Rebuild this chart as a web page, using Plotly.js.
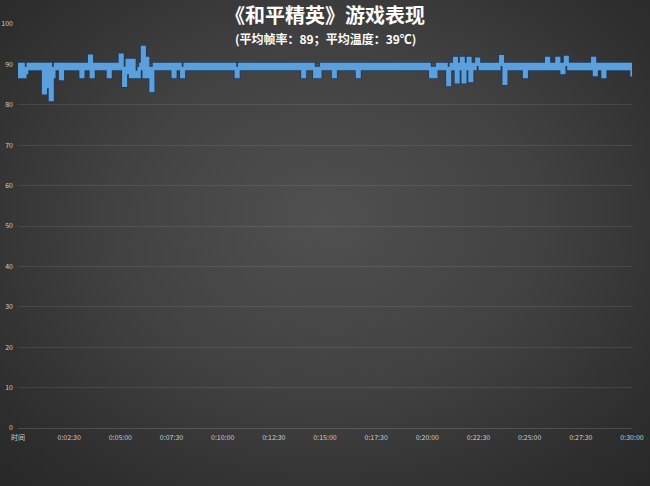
<!DOCTYPE html>
<html>
<head>
<meta charset="utf-8">
<script src="https://cdn.plot.ly/plotly-3.0.1.min.js"></script>
<style>
  html, body { margin: 0; padding: 0; }
  body {
    width: 650px; height: 486px; overflow: hidden;
    background: radial-gradient(ellipse 75% 80% at 50% 45%, #505050 0%, #414141 45%, #2e2e2e 80%, #262626 100%);
  }
  #chart { width: 650px; height: 486px; }
</style>
</head>
<body>
<div id="chart"></div>
<script>
// Frame rate samples, one every 5 seconds over 30 minutes
const sampleStepSeconds = 5;
const fps = [
  90,87,90,87,88,89,90,89,90,89,90,89,90,89,90,83,90,84.5,90,81.3,
  87,89,90,89,90,86.5,90,89,90,89,90,89,90,89,90,89,90,87,90,89,
  90,89,92,87,90,89,90,89,90,89,90,89,90,87,90,89,90,89,90,89,
  92.3,89,84.8,89,91,88,87,91,87,88,87,89,90,94.2,87,91.5,87,89,83.5,89,
  90,89,90,89,90,89,90,89,90,89,90,87,90,89,90,89,87,89,90,89,
  90,89,90,89,90,89,90,89,90,89,90,89,90,89,90,89,90,89,90,89,
  90,89,90,89,90,89,90,89,87,89,90,89,90,89,90,89,90,89,90,89,
  90,89,90,89,90,89,90,89,90,89,90,89,90,89,90,89,90,89,90,89,
  90,89,90,89,90,89,90,87,90,89,90,89,90,89,87,89,87,89,90,89,
  90,89,90,89,90,87,90,89,90,89,90,89,90,89,90,89,90,89,90,87,
  90,89,90,89,90,89,90,89,90,89,90,89,90,89,90,89,90,89,90,89,
  90,89,90,89,90,89,90,89,90,89,90,89,90,89,90,89,90,89,90,89,
  90,89,87,89,87,89,90,89,90,89,90,89,85,89,90,89,91.5,85.7,90,89,
  91.5,85.7,90,89,91.5,86,90,89,90,91.3,90,89,90,89,90,89,90,89,90,89,
  90,89,90,91.9,90,85.3,90,89,90,89,90,89,90,89,90,89,90,87,90,89,
  90,89,90,89,90,89,90,89,90,89,91.5,89,90,89,90,89,91.5,89,90,88,
  90,91.7,90,89,90,89,90,89,90,89,90,89,90,89,90,89,90,91.5,87.5,89,
  90,89,90,87,90,89,90,89,90,89,90,89,90,89,90,89,90,89,90,89,
  87
];
const times = fps.map((v, i) => i * sampleStepSeconds);

const tickSeconds = [0,150,300,450,600,750,900,1050,1200,1350,1500,1650,1800];
const tickLabels = ["时间","0:02:30","0:05:00","0:07:30","0:10:00","0:12:30","0:15:00","0:17:30","0:20:00","0:22:30","0:25:00","0:27:30","0:30:00"];

const titleText = "《和平精英》游戏表现";
const subtitleText = "(平均帧率：89；平均温度：39℃)";

const font = '"Noto Sans CJK SC", "Noto Sans", sans-serif';

const traces = [
  { x: times, y: fps, type: 'scatter', mode: 'lines',
    line: { color: '#1f3a58', width: 5, shape: 'hv' }, hoverinfo: 'skip', showlegend: false },
  { x: times, y: fps, type: 'scatter', mode: 'lines',
    line: { color: '#5b9fdc', width: 3.4, shape: 'hv' }, showlegend: false }
];

const layout = {
  width: 650, height: 486,
  margin: { l: 18, r: 18, t: 24, b: 58 },
  paper_bgcolor: 'rgba(0,0,0,0)',
  plot_bgcolor: 'rgba(0,0,0,0)',
  font: { family: font, color: '#cccccc', size: 7 },
  title: {
    text: '<b>' + titleText + '</b>',
    font: { family: font, size: 20, color: '#ffffff' },
    x: 0.5, xanchor: 'center', xref: 'paper',
    y: 1 - 16 / 486, yanchor: 'middle', yref: 'container'
  },
  annotations: [{
    text: '<b>' + subtitleText + '</b>',
    xref: 'paper', yref: 'paper', x: 0.5, y: 1 - 14 / 404,
    xanchor: 'center', yanchor: 'middle', showarrow: false,
    font: { family: font, size: 12, color: '#ffffff' }
  }],
  xaxis: {
    range: [0, 1800], tickmode: 'array', tickvals: tickSeconds, ticktext: tickLabels,
    showgrid: false, zeroline: false, showline: true, linecolor: 'rgba(255,255,255,0.14)', linewidth: 1,
    ticks: '', ticklabelstandoff: 3, tickfont: { family: font, size: 7, color: '#cccccc' }, fixedrange: true
  },
  yaxis: {
    range: [0, 100], dtick: 10, tick0: 0,
    showgrid: true, gridcolor: 'rgba(255,255,255,0.09)', gridwidth: 1, zeroline: false,
    ticks: '', ticklabelstandoff: 4, tickfont: { family: font, size: 7, color: '#cccccc' }, fixedrange: true
  }
};

Plotly.newPlot('chart', traces, layout, { displayModeBar: false, staticPlot: true });
</script>
</body>
</html>
